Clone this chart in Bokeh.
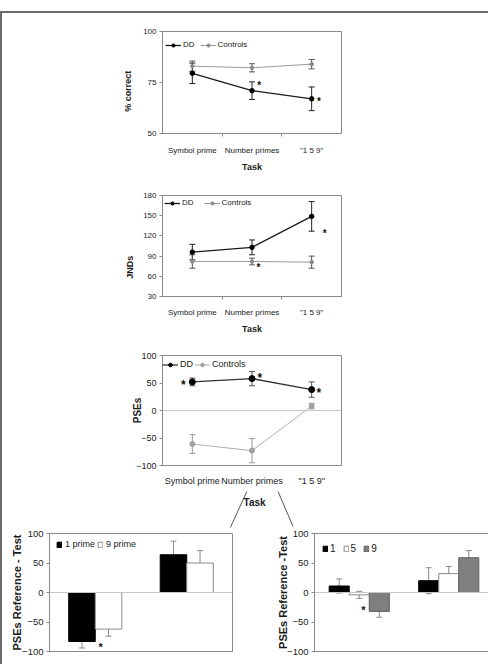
import numpy as np
from bokeh.plotting import figure
from bokeh.models import (ColumnDataSource, Whisker, Legend, LegendItem, FixedTicker,
                          Span, Range1d, Label, TeeHead)
from bokeh.layouts import column, row
from bokeh.core.properties import value
from bokeh.embed import file_html
from bokeh.resources import INLINE

# ---------------- data ----------------
tasks = ["Symbol prime", "Number primes", '"1 5 9"']

acc_dd = [79.5, 71.0, 67.0]
acc_dd_err = [5.0, 4.3, 5.8]
acc_ctrl = [83.0, 82.2, 84.0]
acc_ctrl_err = [2.5, 2.0, 2.3]
acc_ticks = [50, 75, 100]
acc_star_task = [1, 2]
acc_star_val = [75, 67]

jnd_dd = [96, 103, 149]
jnd_dd_err = [11.5, 11, 22]
jnd_ctrl = [82, 82, 81]
jnd_ctrl_err = [10, 5, 9]
jnd_ticks = [30, 60, 90, 120, 150, 180]
jnd_star_task = [1, 2]
jnd_star_val = [78, 128]

pse_dd = [52, 58, 38]
pse_dd_err = [7, 13, 14]
pse_ctrl = [-61, -73, 8]
pse_ctrl_err = [17, 22, 5]
pse_ticks = [-100, -50, 0, 50, 100]
pse_star_task = [0, 1, 2]
pse_star_val = [52, 65, 38]

bar_groups = ["Controls", "DD"]
prime_names = ["1 prime", "9 prime"]
prime1 = [-83, 64]
prime1_err = [11, 23]
prime9 = [-62, 50]
prime9_err = [12, 21]
prime_star_group = [0]
prime_star_val = [-87]

num_names = ["1", "5", "9"]
num1 = [11, 20]
num1_err = [12, 22]
num5 = [-4, 32]
num5_err = [6, 12]
num9 = [-32, 59]
num9_err = [10, 12]
num_star_group = [0]
num_star_val = [-24]

# ---------------- style / layout ----------------
FONT = "Liberation Sans"
AXC = "#8a8a8a"
TXT = "#1a1a1a"
W = 488
NB = "\u00a0"  # padding used to nudge rotated axis titles along the axis

acc_star_dx = [0.12, 0.12]
jnd_star_dx = [0.11, 0.22]
pse_star_dx = [-0.15, 0.13, 0.12]
prime_star_dx = [0.06]
num_star_dx = [0.045]


def base_fig(width, height, bl, br, bt, bb, xr, yr):
    p = figure(width=width, height=height, x_range=xr, y_range=yr, title=None,
               output_backend="svg", toolbar_location=None,
               min_border_left=bl, min_border_right=br,
               min_border_top=bt, min_border_bottom=bb,
               outline_line_color=AXC, outline_line_width=1,
               border_fill_color="white", background_fill_color="white")
    p.xgrid.visible = False
    p.ygrid.visible = False
    return p


def style_yaxis(p, ticks, label, tick_fs, label_fs, label_standoff):
    ax = p.yaxis[0]
    ax.ticker = FixedTicker(ticks=ticks)
    ax.axis_line_color = AXC
    ax.major_tick_line_color = AXC
    ax.major_tick_out = 3
    ax.major_tick_in = 0
    ax.minor_tick_line_color = None
    ax.major_label_text_font = FONT
    ax.major_label_text_font_size = tick_fs
    ax.major_label_text_color = TXT
    ax.major_label_standoff = 3
    ax.axis_label = label
    ax.axis_label_text_font = FONT
    ax.axis_label_text_font_style = "bold"
    ax.axis_label_text_font_size = label_fs
    ax.axis_label_text_color = TXT
    ax.axis_label_standoff = label_standoff


def style_xaxis(p, names, fs, standoff, label=None, label_fs="9px", label_standoff=5,
                boundary_ticks=True):
    n = len(names)
    centers = [float(i) + 0.5 for i in range(n)]
    bounds = [float(i) for i in range(1, n)]
    ax = p.xaxis[0]
    ax.ticker = FixedTicker(ticks=centers, minor_ticks=bounds if boundary_ticks else [])
    ax.major_label_overrides = {c: nm for c, nm in zip(centers, names)}
    ax.axis_line_color = AXC
    ax.major_tick_line_color = None
    ax.major_tick_out = 0
    ax.major_tick_in = 0
    ax.minor_tick_line_color = AXC if boundary_ticks else None
    ax.minor_tick_out = 3
    ax.minor_tick_in = 0
    ax.major_label_text_font = FONT
    ax.major_label_text_font_size = fs
    ax.major_label_text_color = TXT
    ax.major_label_standoff = standoff
    if label:
        ax.axis_label = label
        ax.axis_label_text_font = FONT
        ax.axis_label_text_font_style = "bold"
        ax.axis_label_text_font_size = label_fs
        ax.axis_label_text_color = TXT
        ax.axis_label_standoff = label_standoff


def add_err(p, x, y, e, color, size=6, width=1):
    src = ColumnDataSource(dict(base=list(x),
                                lower=[a - b for a, b in zip(y, e)],
                                upper=[a + b for a, b in zip(y, e)]))
    w = Whisker(source=src, base="base", lower="lower", upper="upper",
                line_color=color, line_width=width,
                upper_head=TeeHead(size=size, line_color=color, line_width=width),
                lower_head=TeeHead(size=size, line_color=color, line_width=width))
    p.add_layout(w)


def add_series(p, y, err, lc, lw, mc, ms, ec):
    x = [i + 0.5 for i in range(len(y))]
    src = ColumnDataSource(dict(x=x, y=y))
    lr = p.line("x", "y", source=src, line_color=lc, line_width=lw)
    add_err(p, x, y, err, ec)
    sr = p.scatter("x", "y", source=src, marker="circle", size=ms,
                   fill_color=mc, line_color=mc)
    return lr, sr


def add_legend(p, items, loc, fs, gw, gh, spacing, standoff):
    lg = Legend(items=[LegendItem(label=value(l), renderers=r) for l, r in items],
                orientation="horizontal", location=loc, padding=0, margin=0,
                spacing=spacing, label_standoff=standoff,
                glyph_width=gw, glyph_height=gh, label_height=gh, label_width=0,
                label_text_font=FONT, label_text_font_size=fs, label_text_color=TXT,
                background_fill_alpha=0, border_line_color=None)
    p.add_layout(lg)


def add_stars(p, idx, vals, dx, fs, dy=3):
    xs = [i + 0.5 + d for i, d in zip(idx, dx)]
    p.text(x=xs, y=vals, text=["*"] * len(xs), text_font=value(FONT),
           text_font_size=fs, text_font_style="bold", text_align="center",
           text_baseline="middle", y_offset=dy, text_color="#111111")


# ---------- chart 1: % correct ----------
p1 = base_fig(W, 162, 158, 147, 18, 42, Range1d(0, 3), Range1d(50, 100))
style_yaxis(p1, acc_ticks, "% correct" + NB * 7, "8px", "9px", 7)
style_xaxis(p1, tasks, "8px", 9, "Task", "9px", 4)
r_dd = add_series(p1, acc_dd, acc_dd_err, "#1a1a1a", 1.3, "#000000", 4.5, "#222222")
r_ct = add_series(p1, acc_ctrl, acc_ctrl_err, "#9a9a9a", 1, "#8a8a8a", 3.5, "#555555")
add_stars(p1, acc_star_task, acc_star_val, acc_star_dx, "10px")
add_legend(p1, [("DD", list(r_dd)), ("Controls", list(r_ct))], (3, 84), "8px", 16, 8, 5, 2)

# ---------- chart 2: JNDs ----------
p2 = base_fig(W, 161, 158, 145, 20, 37, Range1d(0, 3), Range1d(30, 180))
style_yaxis(p2, jnd_ticks, "JNDs" + NB * 17, "8px", "9px", 5)
style_xaxis(p2, tasks, "8px", 8, "Task", "9px", 4)
r_dd = add_series(p2, jnd_dd, jnd_dd_err, "#1a1a1a", 1.3, "#000000", 4.5, "#222222")
r_ct = add_series(p2, jnd_ctrl, jnd_ctrl_err, "#9a9a9a", 1, "#8a8a8a", 3.5, "#555555")
add_stars(p2, jnd_star_task, jnd_star_val, jnd_star_dx, "10px")
add_legend(p2, [("DD", list(r_dd)), ("Controls", list(r_ct))], (2, 89), "8px", 16, 8, 10, 2)

# ---------- chart 3: PSEs ----------
p3 = base_fig(W, 152, 160, 146, 19, 22, Range1d(0, 3), Range1d(-100, 100))
style_yaxis(p3, pse_ticks, "PSEs", "9px", "10px", -10)
style_xaxis(p3, tasks, "9px", 10, None, boundary_ticks=False)
p3.add_layout(Span(location=0, dimension="width", line_color="#c8c8c8", line_width=1))
r_dd = add_series(p3, pse_dd, pse_dd_err, "#333333", 1.3, "#000000", 6, "#555555")
r_ct = add_series(p3, pse_ctrl, pse_ctrl_err, "#b0b0b0", 1, "#a0a0a0", 5, "#999999")
add_stars(p3, pse_star_task, pse_star_val, pse_star_dx, "12px")
add_legend(p3, [("DD", list(r_dd)), ("Controls", list(r_ct))], (0, 96), "9px", 16, 9, 1, 2)

# ---------- connector strip with chart-3 task title ----------
conn_x0 = [230, 315]
conn_y0 = [3, 3]
conn_x1 = [185, 356]
conn_y1 = [39, 38]
strip = figure(width=W, height=40, x_range=Range1d(0, W), y_range=Range1d(40, 0),
               title=None, output_backend="svg", toolbar_location=None,
               x_axis_location=None, y_axis_location=None, min_border=0,
               outline_line_color=None, border_fill_color="white",
               background_fill_color="white")
strip.xgrid.visible = False
strip.ygrid.visible = False
strip.segment(x0=conn_x0, y0=conn_y0, x1=conn_x1, y1=conn_y1,
              line_color="#555555", line_width=1)
strip.add_layout(Label(x=251, y=14, text="Task", text_align="center",
                       text_baseline="middle", text_font=FONT, text_font_size="10px",
                       text_font_style="bold", text_color=TXT))

# ---------- bottom-left: 1 prime vs 9 prime ----------
pl = base_fig(243, 148, 47, 13, 5, 24, Range1d(0, 2), Range1d(-100, 100))
style_yaxis(pl, pse_ticks, "PSEs Reference - Test", "9.5px", "11px", -4)
style_xaxis(pl, bar_groups, "10px", 11, None, boundary_ticks=False)
pl.add_layout(Span(location=0, dimension="width", line_color="#c8c8c8", line_width=1))
bw_l = 0.29
gx = [i + 0.5 for i in range(len(bar_groups))]
x1 = [g - bw_l / 2 for g in gx]
x9 = [g + bw_l / 2 for g in gx]
b1 = pl.vbar(x=x1, top=prime1, bottom=0, width=bw_l, fill_color="#000000", line_color="#000000")
b9 = pl.vbar(x=x9, top=prime9, bottom=0, width=bw_l, fill_color="#ffffff", line_color="#8a8a8a")
add_err(pl, x1, prime1, prime1_err, "#8a8a8a")
add_err(pl, x9, prime9, prime9_err, "#8a8a8a")
add_stars(pl, prime_star_group, prime_star_val, prime_star_dx, "11px")
add_legend(pl, [(prime_names[0], [b1]), (prime_names[1], [b9])], (7, 102), "9px", 6, 7, 2, 3)

# ---------- bottom-right: 1 / 5 / 9 ----------
pr = base_fig(250, 148, 69, 2, 5, 24, Range1d(0, 2), Range1d(-100, 100))
style_yaxis(pr, pse_ticks, "PSEs Reference -Test", "9.5px", "11px", -5)
style_xaxis(pr, bar_groups, "10px", 11, None, boundary_ticks=False)
pr.add_layout(Span(location=0, dimension="width", line_color="#c8c8c8", line_width=1))
bw_r = 0.224
xa = [g - bw_r for g in gx]
xb = list(gx)
xc = [g + bw_r for g in gx]
c1 = pr.vbar(x=xa, top=num1, bottom=0, width=bw_r, fill_color="#000000", line_color="#000000")
c5 = pr.vbar(x=xb, top=num5, bottom=0, width=bw_r, fill_color="#ffffff", line_color="#8a8a8a")
c9 = pr.vbar(x=xc, top=num9, bottom=0, width=bw_r, fill_color="#7f7f7f", line_color="#606060")
add_err(pr, xa, num1, num1_err, "#8a8a8a")
add_err(pr, xb, num5, num5_err, "#8a8a8a")
add_err(pr, xc, num9, num9_err, "#8a8a8a")
add_stars(pr, num_star_group, num_star_val, num_star_dx, "11px")
add_legend(pr, [(num_names[0], [c1]), (num_names[1], [c5]), (num_names[2], [c9])],
           (8, 97), "10px", 6, 7, 7, 2)

root = column(p1, p2, p3, strip, row(pl, pr), width=W, height=653,
              margin=(11, 0, 0, 0),
              styles={"overflow": "hidden",
                      "border-top": "2px solid #6b6b6b",
                      "border-left": "2px solid #6b6b6b"})

open("out.html", "w").write(file_html(root, INLINE))
